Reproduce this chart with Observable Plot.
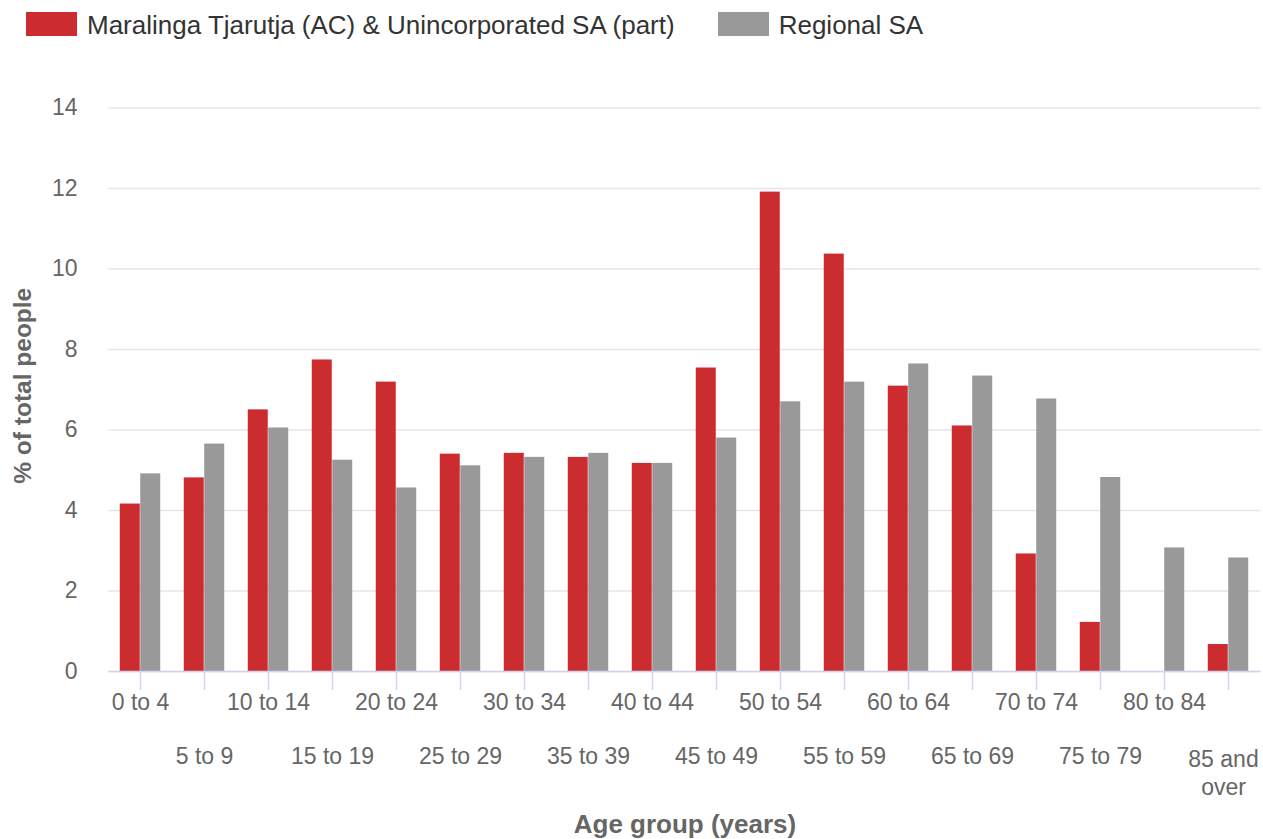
<!DOCTYPE html>
<html>
<head>
<meta charset="utf-8">
<script src="https://cdn.jsdelivr.net/npm/d3@7"></script>
<script src="https://cdn.jsdelivr.net/npm/@observablehq/plot@0.6"></script>
<style>
  html, body { margin: 0; padding: 0; background: #ffffff; }
  body { width: 1263px; height: 839px; overflow: hidden; font-family: "Liberation Sans", Arial, sans-serif; }
  #legend { height: 50px; box-sizing: border-box; padding-top: 12px; padding-left: 26px; display: flex; align-items: flex-start; font-size: 26px; color: #333333; }
  .item { display: flex; align-items: center; height: 24px; margin-right: 43px; }
  .sw { width: 51px; height: 24px; margin-right: 10px; flex: none; }
  .lab { white-space: nowrap; line-height: 24px; position: relative; top: 1px; }
  #chart svg { display: block; }
</style>
</head>
<body>
<div id="legend"></div>
<div id="chart"></div>
<script>
const categories = ["0 to 4", "5 to 9", "10 to 14", "15 to 19", "20 to 24", "25 to 29", "30 to 34", "35 to 39", "40 to 44", "45 to 49", "50 to 54", "55 to 59", "60 to 64", "65 to 69", "70 to 74", "75 to 79", "80 to 84", "85 and over"];
const seriesNames = ["Maralinga Tjarutja (AC) & Unincorporated SA (part)", "Regional SA"];
const seriesColors = ["#cc2c30", "#999999"];
const maralinga = [4.16, 4.81, 6.50, 7.74, 7.19, 5.40, 5.42, 5.32, 5.17, 7.54, 11.91, 10.37, 7.09, 6.10, 2.92, 1.22, 0, 0.67];
const regional = [4.91, 5.65, 6.05, 5.25, 4.56, 5.11, 5.32, 5.42, 5.17, 5.80, 6.70, 7.19, 7.64, 7.34, 6.77, 4.82, 3.07, 2.82];
const yTicks = [0, 2, 4, 6, 8, 10, 12, 14];
const xTitle = "Age group (years)";
const yTitle = "% of total people";

// legend
const legend = d3.select("#legend");
seriesNames.forEach((name, i) => {
  const it = legend.append("div").attr("class", "item");
  it.append("div").attr("class", "sw").style("background", seriesColors[i]);
  it.append("div").attr("class", "lab").text(name);
});

const table = categories.map((c, i) => ({age: c, m: maralinga[i], r: regional[i]}));
const row1 = categories.filter((d, i) => i % 2 === 0);
const row2 = categories.filter((d, i) => i % 2 === 1);

const chart = Plot.plot({
  width: 1263,
  height: 789,
  marginLeft: 108.5,
  marginRight: 2.5,
  marginTop: 57.5,
  marginBottom: 168,
  style: {fontFamily: "'Liberation Sans', Arial, sans-serif", fontSize: "23px", color: "#666666", background: "#ffffff", overflow: "visible"},
  x: {domain: categories, paddingInner: 0.68, paddingOuter: 0.34},
  y: {domain: [0, 14]},
  marks: [
    Plot.gridY(yTicks, {stroke: "#e6e6e6", strokeOpacity: 1, strokeWidth: 1.3}),
    Plot.axisY(yTicks, {tickSize: 0, tickPadding: 31.5, fontSize: 23, fill: "#666666", label: null}),
    Plot.barY(table, {x: "age", y: "m", fill: seriesColors[0], dx: -10.24}),
    Plot.barY(table, {x: "age", y: "r", fill: seriesColors[1], dx: 10.24}),
    Plot.ruleY([0], {stroke: "#ccd6eb", strokeWidth: 1.5}),
    Plot.axisX({tickSize: 19, stroke: "#ccd6eb", strokeWidth: 1.5, tickFormat: () => "", label: null}),
    Plot.axisX(row1, {tickSize: 0, tickPadding: 22, fontSize: 23, fill: "#666666", label: null}),
    Plot.axisX(row2.slice(0, -1), {tickSize: 0, tickPadding: 76, fontSize: 23, fill: "#666666", label: null}),
    Plot.axisX(row2.slice(-1), {tickSize: 0, tickPadding: 76, fontSize: 23, fill: "#666666", lineHeight: 1.2, label: null, dx: -5,
      tickFormat: d => d.replace(" and ", " and\n")}),
    Plot.text([yTitle], {frameAnchor: "left", dx: -85.5, dy: -4, rotate: -90, text: d => d, fontSize: 24.5, fontWeight: "bold", fill: "#666666", textAnchor: "middle", lineAnchor: "middle"}),
    Plot.text([xTitle], {frameAnchor: "bottom", dy: 153, text: d => d, fontSize: 26, fontWeight: "bold", fill: "#666666", textAnchor: "middle", lineAnchor: "middle"})
  ]
});
document.getElementById("chart").appendChild(chart);
</script>
</body>
</html>
